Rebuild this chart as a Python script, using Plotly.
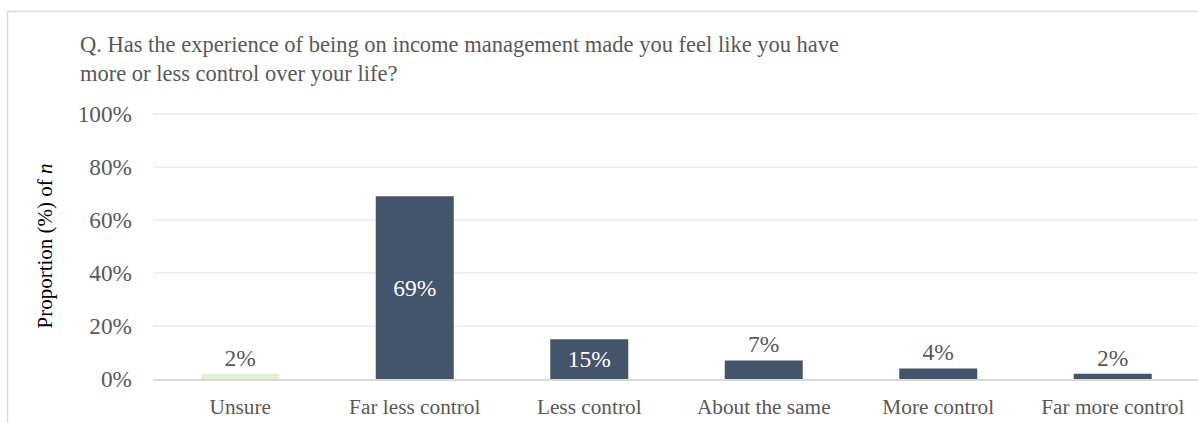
import plotly.graph_objects as go

categories = ["Unsure", "Far less control", "Less control", "About the same", "More control", "Far more control"]
values = [2, 69, 15, 7, 4, 2]
labels = ["2%", "69%", "15%", "7%", "4%", "2%"]
y_ticks = [0, 20, 40, 60, 80, 100]
y_tick_labels = ["0%", "20%", "40%", "60%", "80%", "100%"]
title_lines = [
    "Q. Has the experience of being on income management made you feel like you have",
    "more or less control over your life?",
]

W, H = 1198, 423
L, R, T, B = 153, 0, 113, 44
FONT = "Liberation Serif"
GREY = "#595959"

bar_colors = ["#E2EFDA"] + ["#44546A"] * 5
text_pos = ["outside", "inside", "inside", "outside", "outside", "outside"]

fig = go.Figure(go.Bar(
    x=categories, y=values, text=labels,
    textposition=text_pos, insidetextanchor="middle",
    textfont=dict(family=FONT, size=23.5),
    outsidetextfont=dict(family=FONT, size=23.5, color=GREY),
    insidetextfont=dict(family=FONT, size=23.5, color="#FFFFFF"),
    marker=dict(color=bar_colors, line=dict(width=0)),
    cliponaxis=False,
    hoverinfo="skip",
))

plot_w = W - L - R
plot_h = H - T - B

annotations = []
for i, line in enumerate(title_lines):
    annotations.append(dict(
        text=line, xref="paper", yref="paper",
        x=(78 - L) / plot_w, xanchor="left",
        y=(H - B - (44 + 29 * i)) / plot_h, yanchor="middle",
        showarrow=False, align="left",
        font=dict(family=FONT, size=22.5, color=GREY),
    ))

fig.update_layout(
    width=W, height=H,
    margin=dict(l=L, r=R, t=T, b=B, autoexpand=False),
    paper_bgcolor="white", plot_bgcolor="white",
    bargap=0.553,
    showlegend=False,
    font=dict(family=FONT, color=GREY, size=21),
    annotations=annotations,
    xaxis=dict(
        range=[-0.5, -0.5 + plot_w / 174.5],
        showgrid=False, showline=True, linecolor="#D9D9D9", linewidth=2,
        ticks="", ticklabelstandoff=7,
        tickfont=dict(family=FONT, size=21.3, color=GREY),
        fixedrange=True,
    ),
    yaxis=dict(
        range=[0, 100.4], tickvals=y_ticks, ticktext=y_tick_labels,
        showgrid=True, gridcolor="#F0F0F0", gridwidth=1.5,
        zeroline=False, showline=False, ticks="",
        ticklabelstandoff=20,
        tickfont=dict(family=FONT, size=23.3, color=GREY),
        title=dict(text="Proportion (%) of <i>n</i>", standoff=19,
                   font=dict(family=FONT, size=21, color="#000000")),
        fixedrange=True,
    ),
    shapes=[
        dict(type="line", xref="paper", yref="paper",
             x0=(7 - L) / plot_w, x1=(W + 10 - L) / plot_w,
             y0=(H - B - 11.5) / plot_h, y1=(H - B - 11.5) / plot_h,
             line=dict(color="#D9D9D9", width=1.5)),
        dict(type="line", xref="paper", yref="paper",
             x0=(7.5 - L) / plot_w, x1=(7.5 - L) / plot_w,
             y0=(H - B - 11) / plot_h, y1=-(B + 10) / plot_h,
             line=dict(color="#D9D9D9", width=1.5)),
    ],
)

fig.write_html(
    "out.html",
    config={"displayModeBar": False},
    post_script="document.body.style.margin='0';document.body.style.overflow='hidden';",
)
